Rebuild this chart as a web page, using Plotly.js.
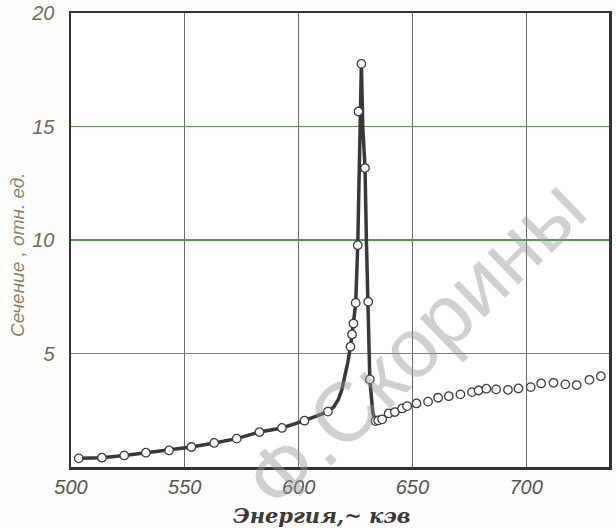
<!DOCTYPE html>
<html>
<head>
<meta charset="utf-8">
<script src="https://cdn.plot.ly/plotly-3.0.1.min.js"></script>
<style>
  html, body { margin: 0; padding: 0; background: #fdfdfb; }
  #chart { width: 616px; height: 528px; }
</style>
</head>
<body>
<div id="chart"></div>
<script>
// Measured points (energy, keV ; cross-section, rel. units)
const pointsX = [503.4, 513.6, 523.4, 532.9, 543.1, 552.9, 562.9, 572.8, 582.8, 592.7, 602.6, 612.9,
                 622.8, 623.5, 624.1, 625.1, 626.0, 626.3, 627.6, 629.2, 630.6, 631.3, 633.8,
                 635.0, 636.7, 639.6, 642.3, 645.5, 647.7, 651.8, 656.9, 661.3, 666.0, 671.1,
                 676.2, 679.1, 682.5, 686.8, 692.0, 696.6, 702.0, 706.6, 712.0, 717.2, 722.2, 727.8, 732.8];
const pointsY = [0.38, 0.41, 0.51, 0.63, 0.73, 0.88, 1.06, 1.25, 1.54, 1.72, 2.04, 2.44,
                 5.30, 5.84, 6.32, 7.23, 9.77, 15.66, 17.76, 13.17, 7.28, 3.86, 2.02,
                 2.05, 2.10, 2.36, 2.42, 2.58, 2.68, 2.80, 2.88, 3.05, 3.12, 3.20,
                 3.30, 3.37, 3.45, 3.42, 3.40, 3.46, 3.52, 3.68, 3.71, 3.64, 3.61, 3.84, 4.00];

// Hand-drawn curve through the resonance
const curveX = [503.4, 513.6, 523.4, 532.9, 543.1, 552.9, 562.9, 572.8, 582.8, 592.7, 602.6, 612.9,
                615.5, 617.5, 619.0, 620.4, 621.6, 622.8, 624.1, 625.1, 626.0, 626.9, 627.6,
                628.2, 629.2, 629.8, 630.6, 631.3, 632.6, 633.8];
const curveY = [0.38, 0.41, 0.51, 0.63, 0.73, 0.88, 1.06, 1.25, 1.54, 1.72, 2.04, 2.44,
                2.65, 2.98, 3.40, 4.00, 4.60, 5.30, 6.30, 7.20, 9.80, 15.0, 17.76,
                15.0, 13.17, 10.0, 7.28, 3.86, 2.40, 2.02];

const xTicks = [500, 550, 600, 650, 700];
const yTicks = [5, 10, 15, 20];

const traces = [
  {
    x: curveX, y: curveY, type: 'scatter', mode: 'lines',
    line: { color: '#383838', width: 3.5, shape: 'linear' },
    hoverinfo: 'skip', showlegend: false
  },
  {
    x: pointsX, y: pointsY, type: 'scatter', mode: 'markers',
    marker: { symbol: 'circle', size: 8.5, color: '#ffffff', line: { color: '#3a3f3a', width: 1.3 } },
    showlegend: false
  }
];

const tickFont = { family: 'Liberation Sans, Arial, sans-serif', size: 20, color: '#555550', style: 'italic' };

const layout = {
  width: 616, height: 528,
  margin: { l: 71, r: 7, t: 13, b: 61 },
  paper_bgcolor: '#fdfdfb',
  plot_bgcolor: '#ffffff',
  showlegend: false,
  xaxis: {
    range: [500, 736.4],
    tickvals: xTicks, ticktext: xTicks.map(String),
    ticks: '', ticklabelstandoff: 0,
    tickfont: tickFont,
    showgrid: true, gridcolor: '#6a6a6a', gridwidth: 1,
    zeroline: false,
    showline: true, linecolor: '#333333', linewidth: 2.5, mirror: true
  },
  yaxis: {
    range: [0, 20],
    tickvals: yTicks, ticktext: yTicks.map(String),
    ticks: '', ticklabelstandoff: 10,
    tickfont: Object.assign({}, tickFont, { color: '#6e6a5a' }),
    showgrid: true, gridcolor: '#4f9a52', gridwidth: 1.5,
    zeroline: false,
    showline: true, linecolor: '#333333', linewidth: 2.5, mirror: true
  },
  annotations: [
    {
      text: 'Энергия,~ кэв', xref: 'paper', yref: 'paper',
      x: 0.4665, y: -0.106, xanchor: 'center', yanchor: 'middle', showarrow: false,
      font: { family: 'DejaVu Serif, Liberation Serif, serif', size: 21, color: '#3a3a3a', style: 'italic', weight: 'bold' }
    },
    {
      text: 'Сечение , отн. ед.', xref: 'paper', yref: 'paper',
      x: -0.0985, y: 0.467, xanchor: 'center', yanchor: 'middle', showarrow: false, textangle: -90,
      font: { family: 'Liberation Sans, Arial, sans-serif', size: 19, color: '#8c8468', style: 'italic' }
    },
    {
      text: 'Ф.Скорины', xref: 'paper', yref: 'paper',
      x: 0.640, y: 0.270, xanchor: 'center', yanchor: 'middle', showarrow: false, textangle: -44,
      font: { family: 'Liberation Sans, DejaVu Sans, sans-serif', size: 84, color: 'rgba(150,150,150,0.45)' }
    }
  ]
};

Plotly.newPlot('chart', traces, layout, { displayModeBar: false, staticPlot: true });
</script>
</body>
</html>
